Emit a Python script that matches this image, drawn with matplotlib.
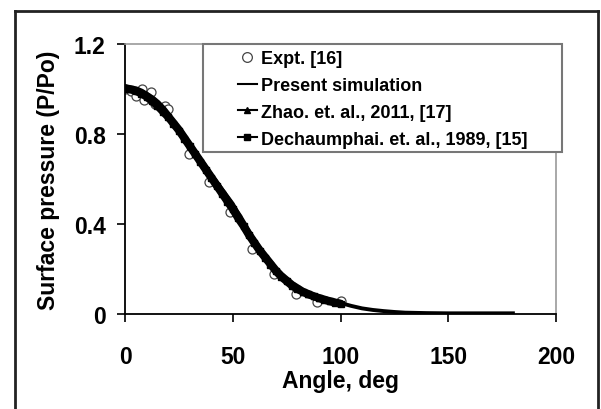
import matplotlib
matplotlib.use('Agg')
import matplotlib.pyplot as plt
from matplotlib.lines import Line2D
from matplotlib.patches import Rectangle
import numpy as np

plt.rcParams['font.family'] = ['Liberation Sans', 'DejaVu Sans']
plt.rcParams['font.weight'] = 'bold'

# experimental points, Expt. [16]
expt_ang = [0, 3, 5, 8, 9, 12, 14, 18.5, 20, 29.5, 39, 48.5, 59, 69, 79.5, 89, 100]
expt_p = [1.0, 0.99, 0.97, 1.0, 0.95, 0.985, 0.935, 0.926, 0.91, 0.71, 0.585, 0.452,
          0.289, 0.178, 0.089, 0.055, 0.059]

# present simulation
sim_ang = [0, 5, 10, 15, 20, 25, 30, 35, 40, 45, 50, 55, 60, 65, 70, 75, 80, 85, 90,
           95, 100, 105, 110, 115, 120, 125, 130, 140, 150, 160, 170, 180]
sim_p = [1.0, 0.995, 0.98, 0.94, 0.885, 0.825, 0.755, 0.69, 0.62, 0.555, 0.49, 0.405,
         0.328, 0.26, 0.2, 0.155, 0.118, 0.092, 0.074, 0.06, 0.049, 0.036, 0.025, 0.018,
         0.013, 0.009, 0.006, 0.004, 0.003, 0.003, 0.003, 0.003]

# Zhao et al. 2011 [17]
zhao_ang = [0, 2.5, 5, 7.5, 10, 12.5, 15, 17.5, 20, 22.5, 25, 27.5, 30, 32.5, 35, 37.5,
            40, 42.5, 45, 47.5, 50, 52.5, 55, 57.5, 60, 62.5, 65, 67.5, 70, 72.5, 75,
            77.5, 80, 82.5, 85, 87.5, 90, 92.5, 95, 97.5, 100]
zhao_p = [1.005, 1.0, 0.995, 0.985, 0.97, 0.955, 0.935, 0.91, 0.88, 0.85, 0.82, 0.785,
          0.75, 0.715, 0.68, 0.645, 0.61, 0.575, 0.54, 0.505, 0.47, 0.435, 0.395, 0.355,
          0.32, 0.285, 0.255, 0.225, 0.195, 0.17, 0.15, 0.13, 0.115, 0.1, 0.09, 0.08,
          0.072, 0.065, 0.058, 0.052, 0.047]

# Dechaumphai et al. 1989 [15]
dech_ang = [0, 2.5, 5, 7.5, 10, 12.5, 15, 17.5, 20, 22.5, 25, 27.5, 30, 32.5, 35, 37.5,
            40, 42.5, 45, 47.5, 50, 52.5, 55, 57.5, 60, 62.5, 65, 67.5, 70, 72.5, 75,
            77.5, 80, 82.5, 85, 87.5, 90, 92.5, 95, 97.5, 100]
dech_p = [1.0, 0.998, 0.99, 0.98, 0.965, 0.945, 0.925, 0.9, 0.875, 0.845, 0.815, 0.78,
          0.745, 0.71, 0.675, 0.64, 0.605, 0.57, 0.535, 0.5, 0.465, 0.425, 0.39, 0.35,
          0.315, 0.28, 0.25, 0.22, 0.19, 0.165, 0.145, 0.125, 0.11, 0.098, 0.087, 0.078,
          0.07, 0.062, 0.056, 0.05, 0.045]

xticks = [0, 50, 100, 150, 200]
yticks = [0, 0.4, 0.8, 1.2]

fig = plt.figure(figsize=(6.01, 4.10), dpi=100)
ax = fig.add_axes([125/601, 1 - 315/410, 431/601, 270/410])

ax.plot(zhao_ang, zhao_p, color='black', lw=5.5, marker='^', ms=5, zorder=3,
        solid_capstyle='round')
ax.plot(dech_ang, dech_p, color='black', lw=5.5, marker='s', ms=4.5, zorder=3,
        solid_capstyle='round')
ax.plot(sim_ang, sim_p, color='black', lw=2.8, zorder=4)
ax.plot(expt_ang, expt_p, ls='none', marker='o', ms=6.5, mfc='white', mec='#444444',
        mew=0.9, zorder=2)

ax.set_xlim(0, 200)
ax.set_ylim(0, 1.2)
ax.set_xticks(xticks)
ax.set_yticks(yticks)
ax.set_xticklabels(['0', '50', '100', '150', '200'])
ax.set_yticklabels(['0', '0.4', '0.8', '1.2'])
ax.tick_params(axis='x', direction='out', length=6, width=1.2, pad=16, labelsize=16.5)
ax.tick_params(axis='y', direction='out', length=6, width=1.2, pad=8, labelsize=16.5)
for lab in ax.get_xticklabels() + ax.get_yticklabels():
    lab.set_fontweight('bold')

for s in ['left', 'bottom']:
    ax.spines[s].set_color('black')
    ax.spines[s].set_linewidth(1.3)
for s in ['top', 'right']:
    ax.spines[s].set_color('#999999')
    ax.spines[s].set_linewidth(1.2)

ax.set_xlabel('Angle, deg', fontsize=16.5, fontweight='bold')
ax.set_ylabel('Surface pressure (P/Po)', fontsize=16.5, fontweight='bold')
ax.xaxis.set_label_coords(0.5, -0.204)
ax.yaxis.set_label_coords(-0.151, 0.5)

# legend box
box = Rectangle((0.181, 0.6), 0.833, 0.4, transform=ax.transAxes, fill=True,
                facecolor='white', edgecolor='#777777', lw=1.5, clip_on=False, zorder=5)
ax.add_patch(box)

handles = [
    Line2D([], [], ls='none', marker='o', ms=7, mfc='white', mec='#444444', mew=0.9),
    Line2D([], [], color='black', lw=1.5),
    Line2D([], [], color='black', lw=1.5, marker='^', ms=5),
    Line2D([], [], color='black', lw=1.5, marker='s', ms=4),
]
labels = ['Expt. [16]', 'Present simulation', 'Zhao. et. al., 2011, [17]',
          'Dechaumphai. et. al., 1989, [15]']
leg = ax.legend(handles, labels, loc='upper left', bbox_to_anchor=(0.262, 0.978),
                frameon=False, handlelength=1.05, handletextpad=0.25,
                labelspacing=0.55, borderpad=0, borderaxespad=0,
                prop={'weight': 'bold', 'size': 13})
leg.set_zorder(6)

# outer frame of the figure
fig.add_artist(Line2D([15/601, 15/601], [0, 1 - 12/410], color='#222222', lw=2))
fig.add_artist(Line2D([15/601, 598/601], [1 - 12/410, 1 - 12/410], color='#222222', lw=2))
fig.add_artist(Line2D([598/601, 598/601], [0, 1 - 12/410], color='#222222', lw=2))

fig.savefig('out.png', dpi=100)
